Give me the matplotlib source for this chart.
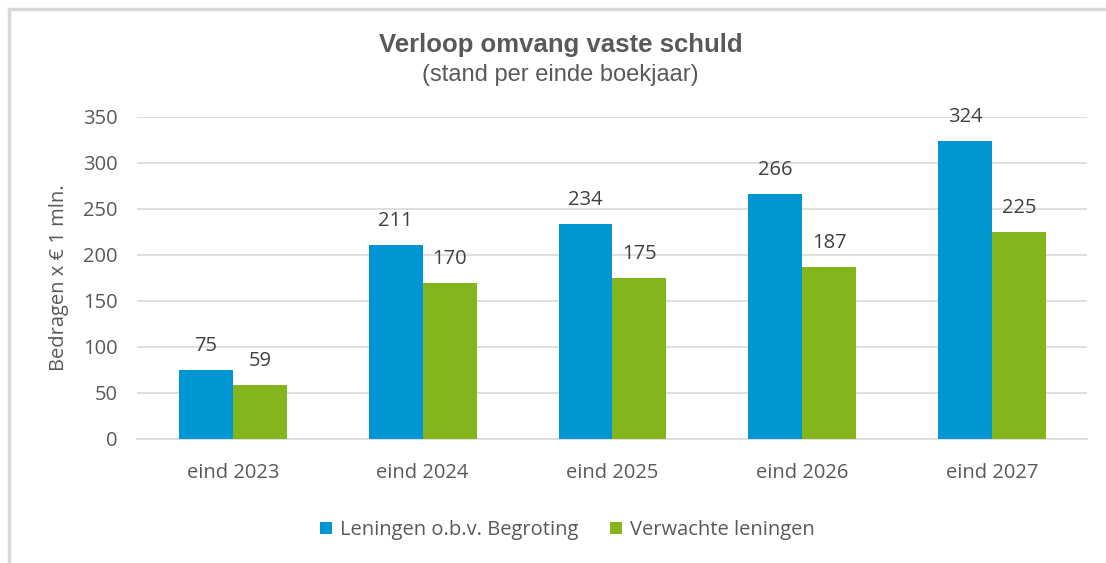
import numpy as np
import matplotlib.pyplot as plt

# data
categories = ["eind 2023", "eind 2024", "eind 2025", "eind 2026", "eind 2027"]
begroting = [75, 211, 234, 266, 324]
verwacht = [59, 170, 175, 187, 225]
series_names = ["Leningen o.b.v. Begroting", "Verwachte leningen"]

blue, green = "#0096D3", "#84B51C"
txt = "#595959"
grid_c = "#D9D9D9"
tick_font = "Open Sans"
fs = 14.5

fig = plt.figure(figsize=(11.06, 5.63), dpi=100)
ax = fig.add_axes([137 / 1106, 1 - 439 / 563, (1087 - 137) / 1106, (439 - 117) / 563])

# outer frame (only top and left visible in the reference)
fig.add_artist(plt.Line2D([9 / 1106, 9 / 1106], [0, 1 - 9 / 563], transform=fig.transFigure,
                          color="#D9D9D9", lw=2.5))
fig.add_artist(plt.Line2D([9 / 1106, 1], [1 - 9 / 563, 1 - 9 / 563], transform=fig.transFigure,
                          color="#D9D9D9", lw=2.5))

x = np.arange(len(categories))
w = 0.284
b1 = ax.bar(x - w / 2, begroting, w, color=blue, label=series_names[0], zorder=3)
b2 = ax.bar(x + w / 2, verwacht, w, color=green, label=series_names[1], zorder=3)

for bars, vals in ((b1, begroting), (b2, verwacht)):
    for r, v in zip(bars, vals):
        ax.annotate(str(v), (r.get_x() + r.get_width() / 2, v), xytext=(0, 10),
                    textcoords="offset points", ha="center", va="bottom",
                    fontsize=fs, color="#404040", family=tick_font)

ax.set_xlim(-0.505, 4.5)
ax.set_ylim(0, 350)
ax.set_yticks(range(0, 351, 50))
ax.yaxis.grid(True, color=grid_c, lw=1.2, zorder=0)
ax.set_axisbelow(True)
for s in ("top", "right", "left"):
    ax.spines[s].set_visible(False)
ax.spines["bottom"].set_color(grid_c)
ax.spines["bottom"].set_linewidth(1.2)
ax.tick_params(length=0, labelsize=fs, colors=txt)
ax.tick_params(axis="y", pad=14)
ax.tick_params(axis="x", pad=17)
ax.set_xticks(x)
ax.set_xticklabels(categories, family=tick_font)
for lab in ax.get_yticklabels():
    lab.set_family(tick_font)

ax.set_ylabel("Bedragen x € 1 mln.", fontsize=fs, color=txt, family=tick_font, labelpad=10)

fig.text(0.507, 1 - 45 / 563, "Verloop omvang vaste schuld", ha="center", va="center",
         fontsize=18.5, fontweight="bold", color=txt, family="Liberation Sans")
fig.text(0.507, 1 - 75 / 563, "(stand per einde boekjaar)", ha="center", va="center",
         fontsize=17, color=txt, family="Liberation Sans")

leg = fig.legend(loc="center", bbox_to_anchor=(0.513, 1 - 530 / 563), ncol=2, frameon=False,
                 handlelength=0.6, handleheight=0.6, handletextpad=0.4,
                 columnspacing=1.6, prop={"family": tick_font, "size": fs})
for t in leg.get_texts():
    t.set_color(txt)

fig.savefig("out.png", dpi=100)
